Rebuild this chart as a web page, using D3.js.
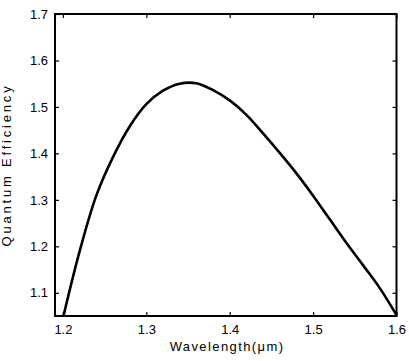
<!DOCTYPE html>
<html lang="en">
<head>
<meta charset="UTF-8"/>
<title>Quantum Efficiency vs Wavelength</title>
<script src="https://d3js.org/d3.v7.min.js"></script>
<style>
	body { margin: 0; background: #fff; }
	text { font-family: "Liberation Sans", Arial, sans-serif; fill: #000; }
</style>
</head>
<body>
<script>
	// data
	var wavelength = [1.20, 1.22, 1.24, 1.26, 1.28, 1.30, 1.32, 1.34, 1.36, 1.38, 1.40,
		1.42, 1.44, 1.46, 1.48, 1.50, 1.52, 1.54, 1.56, 1.58, 1.60];
	var efficiency = [1.045, 1.189, 1.309, 1.392, 1.458, 1.506, 1.535, 1.550, 1.551, 1.536, 1.514,
		1.483, 1.443, 1.401, 1.357, 1.309, 1.258, 1.207, 1.159, 1.110, 1.052];
	var xTicks = [1.2, 1.3, 1.4, 1.5, 1.6];
	var yTicks = [1.1, 1.2, 1.3, 1.4, 1.5, 1.6, 1.7];

	var w = 409, h = 361;
	var padLeft = 55, padRight = 396.5, padTop = 14, padBottom = 316;

	var xScale = d3.scaleLinear()
		.domain([1.1905, 1.6])
		.range([padLeft, padRight]);
	var yScale = d3.scaleLinear()
		.domain([1.05, 1.7])
		.range([padBottom, padTop]);

	var svg = d3.select("body")
		.append("svg")
		.attr("width", w)
		.attr("height", h);

	svg.append("clipPath")
		.attr("id", "plot")
		.append("rect")
		.attr("x", padLeft)
		.attr("y", padTop)
		.attr("width", padRight - padLeft)
		.attr("height", padBottom - padTop);

	var dataset = wavelength.map(function(d, i){ return [d, efficiency[i]]; });

	var line = d3.line()
		.x(function(d){ return xScale(d[0]); })
		.y(function(d){ return yScale(d[1]); })
		.curve(d3.curveCatmullRom);

	svg.append("path")
		.datum(dataset)
		.attr("clip-path", "url(#plot)")
		.attr("fill", "none")
		.attr("stroke", "#000")
		.attr("stroke-width", 2.6)
		.attr("d", line);

	function styleAxis(g) {
		g.select(".domain").remove();
		g.selectAll(".tick line").attr("stroke", "#000").attr("stroke-width", 1.2);
		g.selectAll(".tick text")
			.style("font-size", "13px")
			.style("font-family", "'Liberation Sans', Arial, sans-serif");
	}

	// bottom & left with labels, ticks pointing inward
	svg.append("g")
		.attr("transform", "translate(0," + padBottom + ")")
		.call(d3.axisBottom(xScale).tickValues(xTicks).tickSize(-4).tickPadding(9).tickFormat(d3.format(".1f")))
		.call(styleAxis);

	svg.append("g")
		.attr("transform", "translate(" + padLeft + ",0)")
		.call(d3.axisLeft(yScale).tickValues(yTicks).tickSize(-4).tickPadding(7).tickFormat(d3.format(".1f")))
		.call(styleAxis);

	// mirrored ticks on top & right
	svg.append("g")
		.attr("transform", "translate(0," + padTop + ")")
		.call(d3.axisTop(xScale).tickValues(xTicks).tickSize(-4).tickFormat(""))
		.call(styleAxis);

	svg.append("g")
		.attr("transform", "translate(" + padRight + ",0)")
		.call(d3.axisRight(yScale).tickValues(yTicks).tickSize(-4).tickFormat(""))
		.call(styleAxis);

	// frame
	svg.append("rect")
		.attr("x", padLeft)
		.attr("y", padTop)
		.attr("width", padRight - padLeft)
		.attr("height", padBottom - padTop)
		.attr("fill", "none")
		.attr("stroke", "#000")
		.attr("stroke-width", 2);

	// axis titles
	svg.append("text")
		.attr("text-anchor", "middle")
		.attr("x", 227)
		.attr("y", 351)
		.style("font-size", "13px")
		.style("letter-spacing", "1.4px")
		.text("Wavelength(\u03bcm)");

	svg.append("text")
		.attr("text-anchor", "middle")
		.attr("transform", "rotate(-90)")
		.attr("x", -165)
		.attr("y", 11)
		.style("font-size", "13px")
		.style("letter-spacing", "2.8px")
		.text("Quantum Efficiency");
</script>
</body>
</html>
